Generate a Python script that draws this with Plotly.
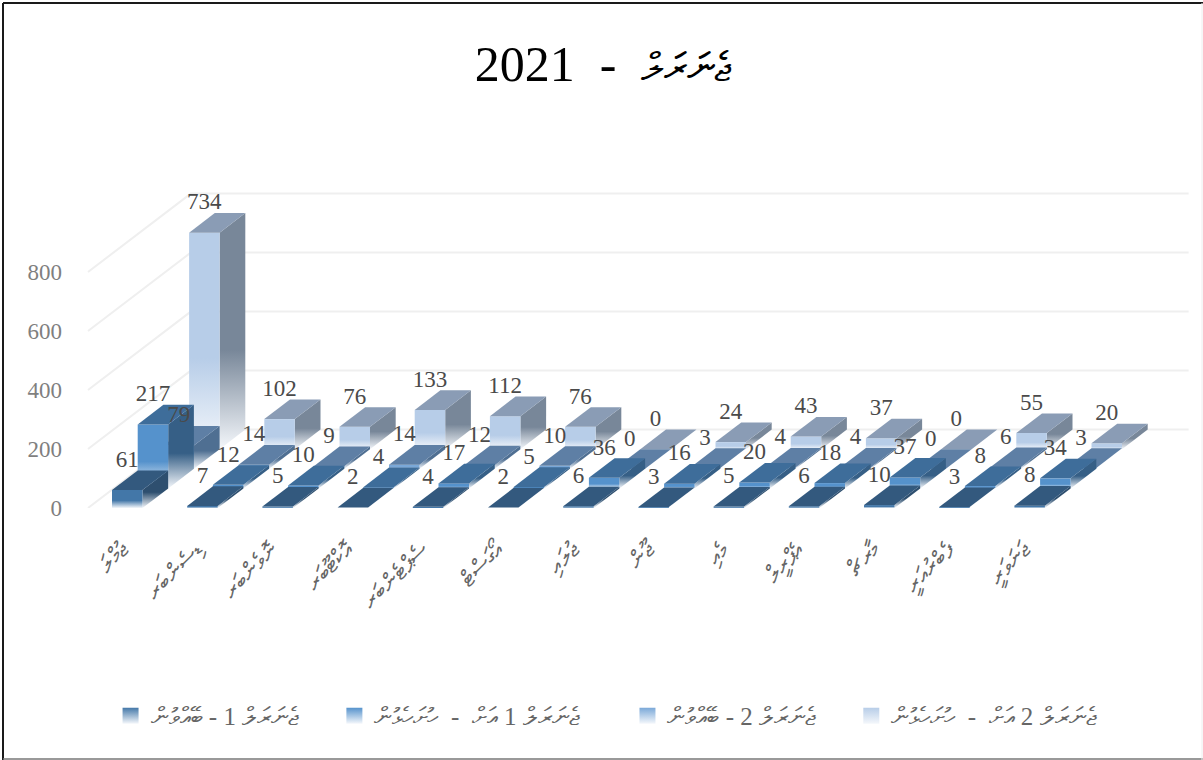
import plotly.graph_objects as go

# ---- data ----
title_word = "ޖެނަރަލް"
title_year = "2021"
categories = ["ޖުމްލަ", "ޑިސެންބަރ", "ނޮވެންބަރ", "އޮކްޓޫބަރ", "ސެޕްޓެންބަރ", "އޯގަސްޓް", "ޖުލައި",
              "ޖޫން", "މެއި", "އެޕްރީލް", "މާރޗް", "ފެބްރުއަރީ", "ޖަނަވަރީ"]
NB = "\u00a0"
series_names = ["ޖެނަރަލް" + NB + "1" + NB + "-" + NB + "ބޭއްވުން",
                "ޖެނަރަލް" + NB + "1" + NB + "އަށް" + NB * 2 + "-" + NB * 2 + "ހުށަހެޅުން",
                "ޖެނަރަލް" + NB + "2" + NB + "-" + NB + "ބޭއްވުން",
                "ޖެނަރަލް" + NB + "2" + NB + "އަށް" + NB * 2 + "-" + NB * 2 + "ހުށަހެޅުން"]
legend_pad = [5, 7, 5, 7]
s1 = [61, 7, 5, 2, 4, 2, 6, 3, 5, 6, 10, 3, 8]
s2 = [217, 12, 10, 4, 17, 5, 36, 16, 20, 18, 37, 8, 34]
s3 = [79, 14, 9, 14, 12, 10, 0, 3, 4, 4, 0, 6, 3]
s4 = [734, 102, 76, 133, 112, 76, 0, 24, 43, 37, 0, 55, 20]
y_ticks = [0, 200, 400, 600, 800]
series = [s1, s2, s3, s4]

# ---- style: (front, side, top) ----
colors = [("#4377a8", "#2e4f6f", "#33597e"),
          ("#5592cc", "#365f86", "#3e6d9a"),
          ("#7aa8d8", "#4f6f92", "#5e7fa5"),
          ("#b7cde8", "#788799", "#8a9cb5")]
FADE = "#f4f7fb"

# oblique projection, in axis units (category / value)
X_STEP = 75.2           # px per category
Y_SCALE = 0.295         # px per value
DX = 25.7 / X_STEP      # depth shift of one row along x
DY = 19.6 / Y_SCALE     # depth shift of one row along y
W = 30.5 / X_STEP       # bar width
WALL_X = -24 / X_STEP   # left end of the floor
WALL_R = 12.95          # right end of the floor

PLOT_L, PLOT_R, PLOT_T, PLOT_B = 68, 1195, 100, 508
x_range = [(PLOT_L - 112) / X_STEP, (PLOT_R - 112) / X_STEP]
y_range = [0, (PLOT_B - PLOT_T) / Y_SCALE]

fig = go.Figure()


def face(xs, ys, color, fade):
    kw = {}
    if fade:
        kw["fillgradient"] = dict(type="vertical",
                                  colorscale=[[0, FADE], [0.42, color], [1, color]])
    else:
        kw["fillcolor"] = color
    fig.add_trace(go.Scatter(x=xs + xs[:1], y=ys + ys[:1], mode="lines", fill="toself",
                             line=dict(width=0, color=color), hoverinfo="skip",
                             showlegend=False, **kw))


# walls: gridlines on the back and left walls
for v in y_ticks:
    fig.add_trace(go.Scatter(
        x=[WALL_X, WALL_X + 4 * DX, WALL_R + 4 * DX],
        y=[v, v + 4 * DY, v + 4 * DY], mode="lines",
        line=dict(color="#efefef", width=2), hoverinfo="skip", showlegend=False))

# bars, back row first
for r in range(3, -1, -1):
    front, side, top = colors[r]
    for c, v in enumerate(series[r]):
        x0 = c + r * DX
        b = r * DY
        x1 = x0 + W
        if v > 0:
            face([x1, x1 + DX, x1 + DX, x1], [b, b + DY, b + DY + v, b + v], side, True)
            face([x0, x1, x1, x0], [b, b, b + v, b + v], front, True)
        face([x0, x1, x1 + DX, x0 + DX], [b + v, b + v, b + v + DY, b + v + DY], top, False)

# data labels
for r in range(3, -1, -1):
    fig.add_trace(go.Scatter(
        x=[c + r * DX + W / 2 for c in range(13)],
        y=[v + (r + 1) * DY - 7 for v in series[r]],
        mode="text", text=[str(v) for v in series[r]], textposition="top center",
        textfont=dict(family="Liberation Serif", size=23, color="#4a4a4a"),
        hoverinfo="skip", showlegend=False, cliponaxis=False))

# legend entries (padding spaces set the gaps between the legend items)
for r in range(4):
    fig.add_trace(go.Scatter(
        x=[None], y=[None], mode="markers", name=series_names[r] + NB * legend_pad[r],
        marker=dict(symbol="square", size=18, color=colors[r][0],
                    gradient=dict(type="vertical", color=FADE))))


def border(x0, y0, x1, y1, color, width):
    return dict(type="line", xref="paper", yref="paper", layer="above",
                x0=(x0 - PLOT_L) / (PLOT_R - PLOT_L), x1=(x1 - PLOT_L) / (PLOT_R - PLOT_L),
                y0=(PLOT_B - y0) / (PLOT_B - PLOT_T), y1=(PLOT_B - y1) / (PLOT_B - PLOT_T),
                line=dict(color=color, width=width))


fig.update_layout(
    width=1203, height=760, paper_bgcolor="white", plot_bgcolor="white",
    margin=dict(l=PLOT_L, r=1203 - PLOT_R, t=PLOT_T, b=760 - PLOT_B),
    autosize=False,
    title=dict(text='<span style="font-size:40px">' + title_word + '</span>' + NB * 2 + "-" + NB * 2 + title_year,
               x=603 / 1203, xanchor="center", y=1 - 63 / 760, yanchor="middle",
               font=dict(family="Liberation Serif, Noto Sans", size=50, color="black")),
    xaxis=dict(range=x_range, tickmode="array", tickvals=[c + W / 2 - 0.08 for c in range(13)],
               ticktext=categories, tickangle=-45, showgrid=False, zeroline=False, ticklabelstandoff=23,
               showline=False, ticks="", tickfont=dict(family="Liberation Serif, Noto Sans", size=23, color="#666666")),
    yaxis=dict(range=y_range, tickmode="array", tickvals=y_ticks, showgrid=False, zeroline=False,
               showline=False, ticks="", ticklabelstandoff=5,
               tickfont=dict(family="Liberation Serif", size=23, color="#7f7f7f")),
    legend=dict(orientation="h", x=0.4965, xanchor="center", xref="paper", yref="container", y=0.058,
                yanchor="middle", font=dict(family="Liberation Serif, Noto Sans", size=25, color="#666666")),
    shapes=[border(3, 3, 1203, 3, "#1a1a1a", 2), border(3, 3, 3, 760, "#1a1a1a", 2),
            border(3, 759, 1203, 759, "#777777", 1.5), border(1202, 3, 1202, 760, "#eeeeee", 1)],
)
fig.write_html("out.html", post_script="document.body.style.margin='0';",
               config={"displayModeBar": False})
